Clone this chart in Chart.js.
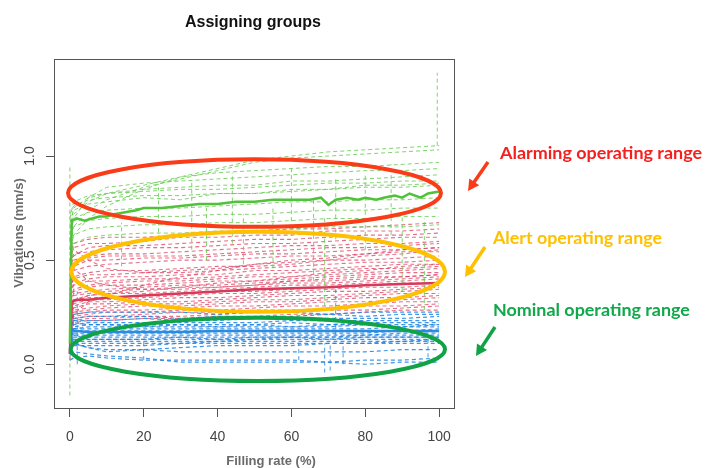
<!DOCTYPE html>
<html>
<head>
<meta charset="utf-8">
<title>Assigning groups</title>
<script src="https://cdn.jsdelivr.net/npm/chart.js@4.4.1/dist/chart.umd.min.js"></script>
<style>
  html, body { margin: 0; padding: 0; background: #fff; }
</style>
</head>
<body>
<canvas id="mycanvas" width="705" height="468"></canvas>
<script>
// filling rate (%) where the dashed curves are sampled
var fillX = [0, 1, 5, 10, 20, 30, 40, 50, 60, 70, 80, 90, 100];

// alarming group (green dashed curves)
var greenCurves = [
  [0.55, 0.62, 0.70, 0.76, 0.84, 0.90, 0.94, 0.98, 1.00, 1.02, 1.03, 1.04, 1.05],
  [0.60, 0.66, 0.74, 0.79, 0.85, 0.89, 0.93, 0.97, 0.99, 1.00, 1.01, 1.02, 1.03],
  [0.62, 0.72, 0.78, 0.82, 0.86, 0.90, 0.92, 0.93, 0.94, 0.95, 0.95, 0.96, 0.97],
  [0.58, 0.70, 0.80, 0.85, 0.87, 0.88, 0.89, 0.90, 0.91, 0.92, 0.93, 0.93, 0.94],
  [0.65, 0.75, 0.80, 0.82, 0.84, 0.85, 0.86, 0.86, 0.88, 0.88, 0.89, 0.90, 0.91],
  [0.70, 0.78, 0.81, 0.82, 0.83, 0.84, 0.84, 0.85, 0.86, 0.87, 0.87, 0.88, 0.88],
  [0.72, 0.76, 0.79, 0.80, 0.81, 0.81, 0.82, 0.82, 0.83, 0.84, 0.85, 0.85, 0.86],
  [0.68, 0.74, 0.77, 0.78, 0.80, 0.79, 0.82, 0.82, 0.84, 0.84, 0.86, 0.86, 0.87],
  [0.60, 0.70, 0.73, 0.74, 0.75, 0.75, 0.76, 0.77, 0.78, 0.78, 0.79, 0.79, 0.80],
  [0.55, 0.66, 0.69, 0.70, 0.71, 0.71, 0.72, 0.72, 0.73, 0.74, 0.74, 0.75, 0.75],
  [0.50, 0.62, 0.65, 0.66, 0.67, 0.67, 0.68, 0.68, 0.69, 0.70, 0.70, 0.71, 0.71],
  [0.45, 0.58, 0.61, 0.62, 0.63, 0.63, 0.64, 0.64, 0.65, 0.66, 0.66, 0.66, 0.67]
];

// alert group (red dashed curves)
var redCurves = [
  [0.55, 0.58, 0.60, 0.61, 0.61, 0.62, 0.63, 0.64, 0.65, 0.65, 0.66, 0.67, 0.68],
  [0.50, 0.56, 0.58, 0.58, 0.59, 0.61, 0.61, 0.62, 0.62, 0.64, 0.64, 0.64, 0.65],
  [0.45, 0.52, 0.56, 0.57, 0.57, 0.58, 0.59, 0.60, 0.60, 0.61, 0.62, 0.62, 0.63],
  [0.48, 0.53, 0.54, 0.55, 0.56, 0.56, 0.57, 0.58, 0.58, 0.59, 0.60, 0.61, 0.61],
  [0.40, 0.50, 0.52, 0.53, 0.53, 0.54, 0.55, 0.56, 0.57, 0.57, 0.58, 0.58, 0.59],
  [0.42, 0.48, 0.51, 0.52, 0.52, 0.52, 0.53, 0.54, 0.55, 0.56, 0.56, 0.57, 0.58],
  [0.38, 0.47, 0.50, 0.50, 0.51, 0.51, 0.52, 0.53, 0.53, 0.54, 0.55, 0.55, 0.56],
  [0.35, 0.45, 0.47, 0.48, 0.49, 0.50, 0.50, 0.51, 0.52, 0.52, 0.53, 0.54, 0.54],
  [0.33, 0.42, 0.44, 0.45, 0.45, 0.46, 0.47, 0.47, 0.48, 0.50, 0.50, 0.51, 0.52],
  [0.36, 0.41, 0.43, 0.43, 0.44, 0.44, 0.45, 0.46, 0.47, 0.48, 0.49, 0.49, 0.50],
  [0.30, 0.39, 0.41, 0.42, 0.42, 0.43, 0.43, 0.45, 0.45, 0.46, 0.47, 0.48, 0.48],
  [0.34, 0.38, 0.40, 0.40, 0.41, 0.41, 0.42, 0.43, 0.44, 0.45, 0.46, 0.46, 0.47],
  [0.28, 0.36, 0.38, 0.39, 0.40, 0.40, 0.41, 0.42, 0.42, 0.43, 0.44, 0.45, 0.46],
  [0.31, 0.35, 0.37, 0.38, 0.38, 0.39, 0.40, 0.40, 0.41, 0.42, 0.43, 0.44, 0.44],
  [0.26, 0.34, 0.35, 0.36, 0.37, 0.38, 0.38, 0.39, 0.40, 0.41, 0.42, 0.42, 0.43],
  [0.30, 0.33, 0.34, 0.35, 0.36, 0.36, 0.37, 0.38, 0.39, 0.39, 0.40, 0.41, 0.42],
  [0.24, 0.31, 0.33, 0.34, 0.34, 0.35, 0.36, 0.37, 0.38, 0.38, 0.39, 0.40, 0.41],
  [0.28, 0.31, 0.32, 0.32, 0.33, 0.34, 0.35, 0.35, 0.36, 0.37, 0.38, 0.39, 0.39],
  [0.22, 0.29, 0.31, 0.31, 0.32, 0.33, 0.34, 0.34, 0.35, 0.36, 0.37, 0.37, 0.38],
  [0.26, 0.28, 0.30, 0.30, 0.31, 0.32, 0.32, 0.33, 0.34, 0.35, 0.35, 0.36, 0.37],
  [0.20, 0.27, 0.29, 0.29, 0.30, 0.30, 0.31, 0.32, 0.33, 0.33, 0.34, 0.35, 0.36],
  [0.24, 0.26, 0.27, 0.28, 0.29, 0.29, 0.30, 0.31, 0.31, 0.32, 0.33, 0.34, 0.34],
  [0.18, 0.25, 0.26, 0.27, 0.28, 0.28, 0.29, 0.30, 0.30, 0.31, 0.32, 0.32, 0.33],
  [0.22, 0.24, 0.25, 0.26, 0.26, 0.27, 0.28, 0.28, 0.29, 0.30, 0.30, 0.31, 0.32],
  [0.15, 0.23, 0.24, 0.25, 0.25, 0.26, 0.26, 0.27, 0.28, 0.28, 0.29, 0.30, 0.30],
  [0.20, 0.22, 0.23, 0.23, 0.24, 0.25, 0.25, 0.26, 0.26, 0.27, 0.28, 0.28, 0.29],
  [0.10, 0.21, 0.22, 0.22, 0.23, 0.23, 0.24, 0.25, 0.25, 0.26, 0.26, 0.27, 0.28],
  [0.05, 0.20, 0.21, 0.21, 0.22, 0.22, 0.23, 0.23, 0.24, 0.24, 0.25, 0.26, 0.26],
  [0.12, 0.24, 0.30, 0.33, 0.38, 0.42, 0.45, 0.48, 0.50, 0.51, 0.53, 0.55, 0.56],
  [0.50, 0.46, 0.40, 0.38, 0.36, 0.37, 0.39, 0.40, 0.42, 0.44, 0.45, 0.47, 0.48],
  [0.60, 0.55, 0.50, 0.46, 0.44, 0.45, 0.46, 0.48, 0.49, 0.50, 0.52, 0.53, 0.55],
  [0.02, 0.30, 0.33, 0.34, 0.35, 0.37, 0.37, 0.38, 0.40, 0.40, 0.41, 0.42, 0.43]
];

// nominal group (blue dashed curves)
var blueCurves = [
  [0.20, 0.24, 0.25, 0.25, 0.25, 0.25, 0.24, 0.25, 0.25, 0.24, 0.25, 0.25, 0.25],
  [0.15, 0.22, 0.23, 0.23, 0.23, 0.22, 0.23, 0.23, 0.23, 0.24, 0.23, 0.24, 0.24],
  [0.18, 0.21, 0.21, 0.21, 0.22, 0.21, 0.21, 0.22, 0.22, 0.22, 0.22, 0.22, 0.23],
  [0.12, 0.19, 0.20, 0.20, 0.20, 0.20, 0.20, 0.20, 0.21, 0.21, 0.21, 0.21, 0.21],
  [0.16, 0.18, 0.19, 0.19, 0.19, 0.19, 0.19, 0.19, 0.20, 0.19, 0.20, 0.20, 0.20],
  [0.10, 0.17, 0.18, 0.18, 0.18, 0.18, 0.18, 0.18, 0.18, 0.18, 0.19, 0.19, 0.19],
  [0.14, 0.17, 0.17, 0.17, 0.17, 0.17, 0.17, 0.17, 0.17, 0.17, 0.17, 0.18, 0.18],
  [0.20, 0.16, 0.16, 0.16, 0.16, 0.16, 0.16, 0.16, 0.16, 0.16, 0.16, 0.16, 0.17],
  [0.12, 0.15, 0.15, 0.15, 0.15, 0.15, 0.15, 0.15, 0.15, 0.15, 0.15, 0.16, 0.16],
  [0.08, 0.14, 0.14, 0.14, 0.14, 0.14, 0.14, 0.14, 0.14, 0.14, 0.14, 0.15, 0.15],
  [0.10, 0.13, 0.13, 0.13, 0.13, 0.13, 0.13, 0.13, 0.13, 0.13, 0.14, 0.14, 0.14],
  [0.05, 0.12, 0.12, 0.12, 0.12, 0.12, 0.12, 0.12, 0.13, 0.13, 0.13, 0.13, 0.13],
  [0.08, 0.11, 0.11, 0.11, 0.11, 0.11, 0.11, 0.12, 0.12, 0.12, 0.12, 0.12, 0.12],
  [0.04, 0.10, 0.10, 0.10, 0.10, 0.10, 0.11, 0.11, 0.11, 0.11, 0.11, 0.11, 0.12],
  [0.06, 0.09, 0.09, 0.09, 0.09, 0.10, 0.10, 0.10, 0.10, 0.10, 0.10, 0.11, 0.11],
  [0.12, 0.10, 0.08, 0.06, 0.07, 0.08, 0.09, 0.09, 0.09, 0.10, 0.10, 0.10, 0.10],
  [0.15, 0.10, 0.08, 0.07, 0.07, 0.06, 0.06, 0.06, 0.06, 0.06, 0.06, 0.07, 0.07],
  [0.18, 0.14, 0.12, 0.12, 0.12, 0.13, 0.12, 0.13, 0.13, 0.12, 0.13, 0.13, 0.13],
  [0.22, 0.20, 0.19, 0.19, 0.18, 0.19, 0.18, 0.19, 0.18, 0.19, 0.19, 0.18, 0.19],
  [0.02, 0.03, 0.04, 0.03, 0.02, 0.02, 0.02, 0.02, 0.02, 0.01, 0.02, 0.02, 0.03],
  [0.05, 0.06, 0.05, 0.04, 0.03, 0.01, 0.01, 0.01, 0.01, 0.01, 0.00, 0.01, 0.01]
];

// short vertical jumps seen inside some curves
var greenJumpX = [0, 14, 24, 33, 37, 44, 47, 55, 60, 66, 69, 72, 80, 87, 90, 96, 99.5];
var greenJumpLow = [-0.15, 0.47, 0.60, 0.55, 0.50, 0.58, 0.48, 0.46, 0.62, 0.40, 0.28, 0.60, 0.55, 0.62, 0.35, 0.26, 1.05];
var greenJumpHigh = [0.95, 0.68, 0.85, 0.88, 0.75, 0.92, 0.72, 0.75, 0.95, 0.80, 0.70, 0.90, 0.92, 0.96, 0.72, 0.70, 1.40];
var blueJumpX = [2, 20, 62, 69, 70.5, 72, 74, 97];
var blueJumpLow = [0.00, 0.02, 0.02, -0.04, -0.03, 0.14, 0.00, 0.00];
var blueJumpHigh = [0.35, 0.12, 0.10, 0.10, 0.10, 0.36, 0.10, 0.14];

// group means (thick solid lines)
var greenMeanX = [0, 0.5, 2, 4, 6, 8, 10, 12, 15, 18, 20, 25, 30, 35, 40, 45, 50, 55, 60, 65, 68, 70, 72, 75, 78, 80, 83, 85, 88, 90, 92, 95, 97, 100];
var greenMean = [0.10, 0.69, 0.70, 0.69, 0.70, 0.71, 0.71, 0.72, 0.73, 0.74, 0.75, 0.75, 0.76, 0.77, 0.77, 0.78, 0.78, 0.79, 0.79, 0.79, 0.80, 0.765, 0.79, 0.80, 0.79, 0.80, 0.79, 0.80, 0.81, 0.80, 0.82, 0.80, 0.82, 0.83];
var redMeanX = [0, 0.5, 2, 5, 10, 20, 30, 40, 50, 60, 70, 80, 90, 100];
var redMean = [0.05, 0.30, 0.31, 0.31, 0.32, 0.33, 0.34, 0.35, 0.36, 0.365, 0.37, 0.38, 0.385, 0.39];
var blueMeanX = [0, 0.5, 2, 5, 10, 20, 30, 40, 50, 60, 70, 80, 90, 100];
var blueMean = [0.05, 0.16, 0.16, 0.155, 0.155, 0.155, 0.155, 0.16, 0.16, 0.16, 0.16, 0.16, 0.16, 0.16];

var xTicks = [0, 20, 40, 60, 80, 100];
var yTicks = [0, 0.5, 1.0];
var yTickLabels = ['0.0', '0.5', '1.0'];

// operating ranges marked with ovals (centre and radii in data units)
var ranges = [
  { name: 'Alarming operating range', color: '#fb3a17', text: '#f5201e', cx: 50.0, cy: 0.822, rx: 50.5, ry: 0.162,
    label: [500, 153, 202], arrow: [488, 162, 468, 191] },
  { name: 'Alert operating range', color: '#ffc000', text: '#ffc000', cx: 51.0, cy: 0.444, rx: 50.6, ry: 0.192,
    label: [493, 238, 169], arrow: [485, 247, 465, 277] },
  { name: 'Nominal operating range', color: '#0fa346', text: '#10a84a', cx: 50.9, cy: 0.072, rx: 50.7, ry: 0.152,
    label: [493, 310, 197], arrow: [495, 327, 476, 356] }
];

function pts(xs, ys) {
  return ys.map(function(y, i) { return { x: xs[i], y: y }; });
}

var datasets = [];
function addDashed(list, color, width, order) {
  list.forEach(function(ys) {
    datasets.push({ data: pts(fillX, ys), borderColor: color, borderWidth: width, borderDash: [4, 3], order: order });
  });
}
function addJumps(xs, lo, hi, color, order) {
  xs.forEach(function(x, i) {
    datasets.push({ data: [{ x: x, y: lo[i] }, { x: x, y: hi[i] }], borderColor: color, borderWidth: 1, borderDash: [4, 3], order: order });
  });
}

addDashed(redCurves, 'rgba(218, 58, 92, 0.72)', 1.1, 4);
addDashed(blueCurves, 'rgba(30, 130, 225, 0.85)', 1.2, 3);
addJumps(blueJumpX, blueJumpLow, blueJumpHigh, 'rgba(30, 130, 225, 0.8)', 3);
addDashed(greenCurves, 'rgba(105, 205, 85, 0.85)', 1, 2);
addJumps(greenJumpX, greenJumpLow, greenJumpHigh, 'rgba(105, 205, 85, 0.85)', 2);
datasets.push({ data: pts(redMeanX, redMean), borderColor: '#d63a58', borderWidth: 2.5, order: 1 });
datasets.push({ data: pts(blueMeanX, blueMean), borderColor: '#2a8ce0', borderWidth: 2.5, order: 1 });
datasets.push({ data: pts(greenMeanX, greenMean), borderColor: '#4fc23a', borderWidth: 2.5, order: 0 });

var decor = {
  id: 'decor',
  afterDatasetsDraw: function(chart) {
    var ctx = chart.ctx, sx = chart.scales.x, sy = chart.scales.y;
    ranges.forEach(function(r) {
      var cx = sx.getPixelForValue(r.cx), cy = sy.getPixelForValue(r.cy);
      var rx = sx.getPixelForValue(r.cx + r.rx) - cx;
      var ry = cy - sy.getPixelForValue(r.cy + r.ry);
      ctx.save();
      ctx.beginPath();
      ctx.ellipse(cx, cy, rx, ry, 0, 0, 2 * Math.PI);
      ctx.lineWidth = 4;
      ctx.strokeStyle = r.color;
      ctx.stroke();
      ctx.restore();
    });
  },
  afterDraw: function(chart) {
    var ctx = chart.ctx, a = chart.chartArea, sx = chart.scales.x, sy = chart.scales.y;
    ctx.save();
    // box
    ctx.strokeStyle = '#555';
    ctx.lineWidth = 1;
    ctx.strokeRect(a.left + 0.5, a.top + 0.5, a.right - a.left - 1, a.bottom - a.top);

    // tick labels
    ctx.fillStyle = '#444';
    ctx.font = '14px "Liberation Sans", Arial, sans-serif';
    ctx.textAlign = 'center';
    ctx.textBaseline = 'middle';
    sx.ticks.forEach(function(t) {
      ctx.fillText(String(t.value), sx.getPixelForValue(t.value), 437);
    });
    sy.ticks.forEach(function(t, i) {
      ctx.save();
      ctx.translate(30, sy.getPixelForValue(t.value));
      ctx.rotate(-Math.PI / 2);
      ctx.fillText(yTickLabels[i], 0, 0);
      ctx.restore();
    });

    // axis titles
    ctx.fillStyle = '#6a6a6a';
    ctx.font = 'bold 13px "Liberation Sans", Arial, sans-serif';
    ctx.fillText('Filling rate (%)', 271, 461);
    ctx.save();
    ctx.translate(19, 233);
    ctx.rotate(-Math.PI / 2);
    ctx.fillText('Vibrations (mm/s)', 0, 0);
    ctx.restore();

    // main title
    ctx.fillStyle = '#111';
    ctx.font = 'bold 16px "Liberation Sans", Arial, sans-serif';
    ctx.fillText('Assigning groups', 253, 23);

    // range labels and arrows
    ranges.forEach(function(r) {
      var size = 16;
      ctx.font = 'bold ' + size + 'px Lato, "Open Sans", sans-serif';
      var w = ctx.measureText(r.name).width;
      size = size * r.label[2] / w;
      ctx.font = 'bold ' + size.toFixed(2) + 'px Lato, "Open Sans", sans-serif';
      ctx.textAlign = 'left';
      ctx.fillStyle = r.text;
      ctx.fillText(r.name, r.label[0], r.label[1]);

      var x1 = r.arrow[0], y1 = r.arrow[1], x2 = r.arrow[2], y2 = r.arrow[3];
      var ang = Math.atan2(y2 - y1, x2 - x1), head = 11;
      ctx.strokeStyle = r.color;
      ctx.fillStyle = r.color;
      ctx.lineWidth = 3.5;
      ctx.beginPath();
      ctx.moveTo(x1, y1);
      ctx.lineTo(x2 - head * 0.8 * Math.cos(ang), y2 - head * 0.8 * Math.sin(ang));
      ctx.stroke();
      ctx.beginPath();
      ctx.moveTo(x2, y2);
      ctx.lineTo(x2 - head * Math.cos(ang) + 6 * Math.sin(ang), y2 - head * Math.sin(ang) - 6 * Math.cos(ang));
      ctx.lineTo(x2 - head * Math.cos(ang) - 6 * Math.sin(ang), y2 - head * Math.sin(ang) + 6 * Math.cos(ang));
      ctx.closePath();
      ctx.fill();
    });
    ctx.restore();
  }
};

var ctx = document.getElementById('mycanvas').getContext('2d');
var mychart = new Chart(ctx, {
  type: 'line',
  data: { datasets: datasets },
  options: {
    responsive: false,
    animation: false,
    events: [],
    layout: { padding: { left: 0, right: 250, top: 59, bottom: 0 } },
    elements: { point: { radius: 0 }, line: { tension: 0 } },
    plugins: { legend: { display: false }, tooltip: { enabled: false }, title: { display: false } },
    scales: {
      x: {
        type: 'linear',
        min: -4.3,
        max: 104.3,
        afterBuildTicks: function(s) { s.ticks = xTicks.map(function(v) { return { value: v }; }); },
        afterFit: function(s) { s.height = 60; },
        grid: { drawOnChartArea: false, drawTicks: true, tickLength: 9, color: '#555' },
        border: { display: false },
        ticks: { color: 'rgba(0,0,0,0)', autoSkip: false, maxRotation: 0 }
      },
      y: {
        type: 'linear',
        min: -0.21,
        max: 1.466,
        afterBuildTicks: function(s) { s.ticks = yTicks.map(function(v) { return { value: v }; }); },
        afterFit: function(s) { s.width = 54; },
        grid: { drawOnChartArea: false, drawTicks: true, tickLength: 8, color: '#555' },
        border: { display: false },
        ticks: { color: 'rgba(0,0,0,0)' }
      }
    }
  },
  plugins: [decor]
});
</script>
</body>
</html>
